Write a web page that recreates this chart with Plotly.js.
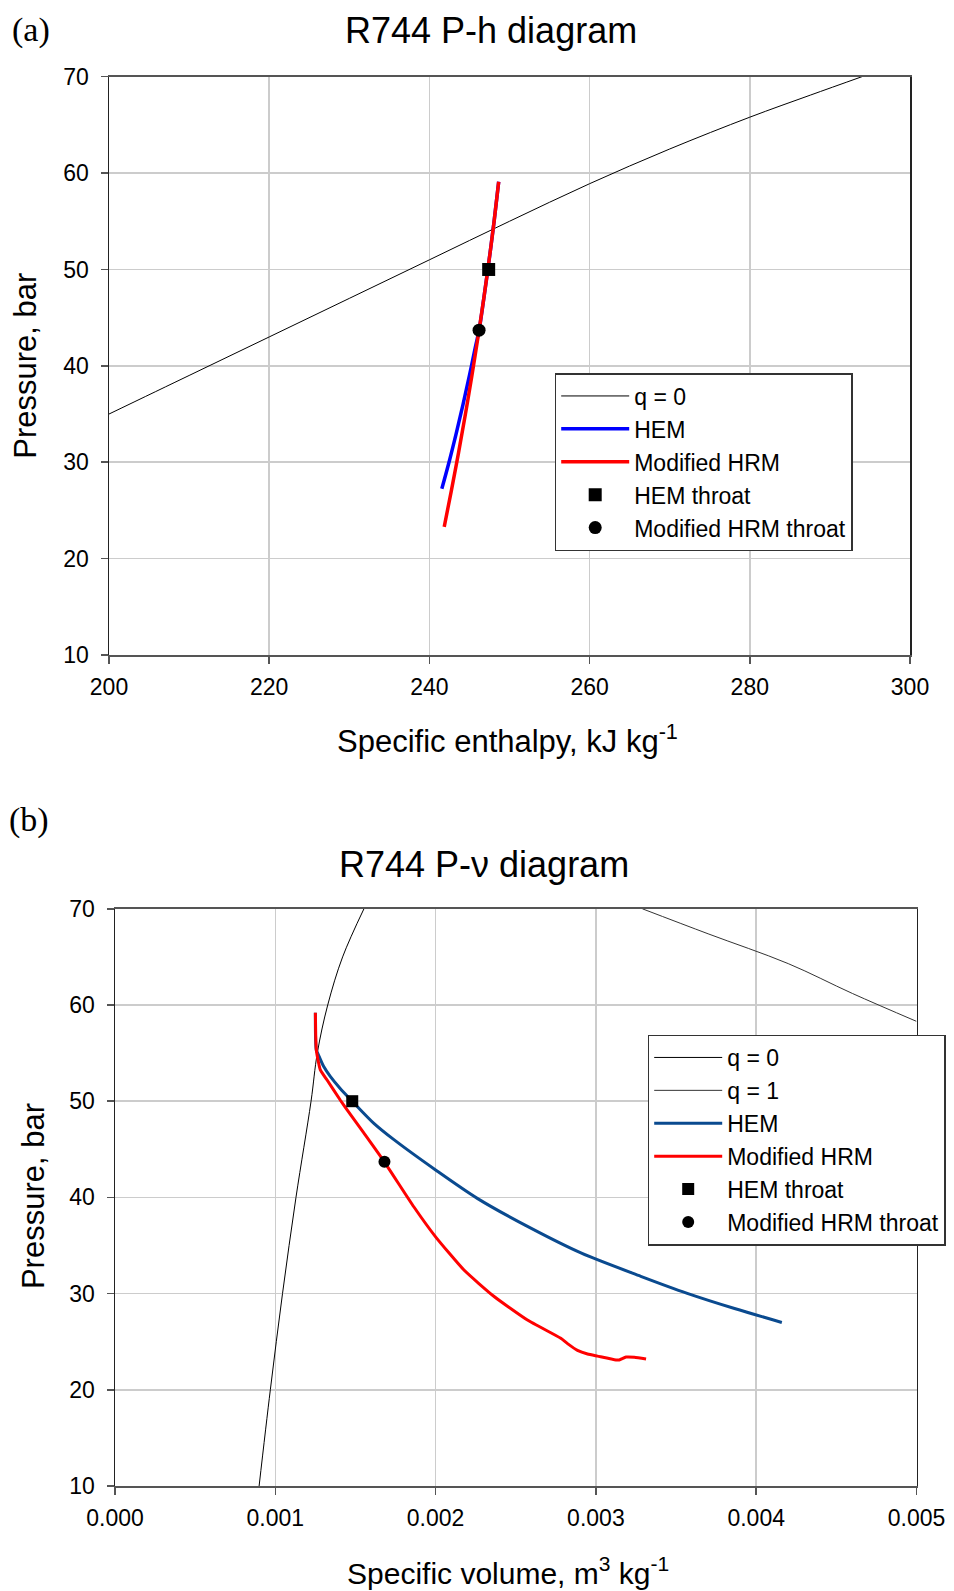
<!DOCTYPE html>
<html>
<head>
<meta charset="utf-8">
<script src="https://cdn.plot.ly/plotly-3.0.1.min.js"></script>
<style>html,body{margin:0;padding:0;background:#fff;}#chart{width:954px;height:1591px;}</style>
</head>
<body>
<div id="chart"></div>
<script>
// ---------- (a) P-h diagram data ----------
const phQ0H = [200, 210, 220, 230, 240, 250, 260, 270, 280, 287.6, 294];
const phQ0P = [35.0, 39.0, 43.0, 47.0, 51.0, 55.0, 58.9, 62.5, 65.8, 68.1, 70.0];
const phHemH = [241.55, 242.45, 243.35, 244.2, 245.0, 245.75, 246.2, 246.79, 247.46, 248.08, 248.65];
const phHemP = [27.25, 30.0, 33.0, 36.0, 39.0, 42.0, 43.7, 47.0, 51.0, 55.0, 59.1];
const phHrmH = [241.85, 242.73, 243.64, 244.5, 245.31, 246.2, 246.79, 247.46, 248.08, 248.65];
const phHrmP = [23.3, 27.0, 31.0, 35.0, 39.0, 43.7, 47.0, 51.0, 55.0, 59.1];
const phHemThroatH = [247.4];
const phHemThroatP = [50.0];
const phHrmThroatH = [246.2];
const phHrmThroatP = [43.7];

// ---------- (b) P-v diagram data ----------
const pvQ0V = [0.000899, 0.000969, 0.001045, 0.001129, 0.001223, 0.001262, 0.001327, 0.00142, 0.001553];
const pvQ0P = [10, 20, 30, 40, 50, 55, 60, 65, 70];
const pvQ1V = [0.00329, 0.0037, 0.0042, 0.0046, 0.005];
const pvQ1P = [70, 67.4, 64.3, 61.2, 58.3];
const pvHemV = [0.00125, 0.001256, 0.001265, 0.001302, 0.001344, 0.001406, 0.00148, 0.001615, 0.00174, 0.002, 0.00226, 0.002594, 0.00291, 0.00328, 0.00357, 0.003865, 0.00416];
const pvHemP = [59.2, 55.3, 54.98, 53.6, 52.55, 51.3, 50.0, 47.7, 46.0, 42.85, 39.9, 36.8, 34.2, 31.8, 30.03, 28.45, 27.0];
const pvHrmV = [0.00125, 0.001252, 0.001256, 0.001281, 0.001323, 0.001406, 0.001448, 0.001552, 0.00168, 0.001865, 0.002, 0.002177, 0.002365, 0.002573, 0.002781, 0.002823, 0.002885, 0.002948, 0.00301, 0.003125, 0.003146, 0.003188, 0.00324, 0.003313];
const pvHrmP = [59.2, 57.0, 55.3, 53.25, 52.2, 50.1, 49.1, 46.7, 43.7, 39.0, 35.9, 32.45, 29.7, 27.25, 25.35, 24.8, 24.1, 23.72, 23.5, 23.1, 23.1, 23.4, 23.38, 23.2];
const pvHemThroatV = [0.00148];
const pvHemThroatP = [50.0];
const pvHrmThroatV = [0.001681];
const pvHrmThroatP = [43.7];

const xTicksA = [200, 220, 240, 260, 280, 300];
const xTicksB = [0, 0.001, 0.002, 0.003, 0.004, 0.005];
const yTicks = [10, 20, 30, 40, 50, 60, 70];

const W = 954, H = 1591;
const px = v => v / W;
const py = v => 1 - v / H;
const FONT = 'Liberation Sans, Arial, sans-serif';
const SERIF = 'Liberation Serif, Times New Roman, serif';
const RED = '#ff0000', BLUE = '#0000ff', DARKBLUE = '#0a4a8f';

const traces = [
  {x: phQ0H, y: phQ0P, name: 'q = 0', mode: 'lines', line: {color: '#000', width: 1, shape: 'spline', smoothing: 1}, xaxis: 'x', yaxis: 'y', legend: 'legend'},
  {x: phHemH, y: phHemP, name: 'HEM', mode: 'lines', line: {color: BLUE, width: 3.5, shape: 'spline', smoothing: 1}, xaxis: 'x', yaxis: 'y', legend: 'legend'},
  {x: phHrmH, y: phHrmP, name: 'Modified HRM', mode: 'lines', line: {color: RED, width: 3.5, shape: 'spline', smoothing: 1}, xaxis: 'x', yaxis: 'y', legend: 'legend'},
  {x: phHemThroatH, y: phHemThroatP, name: 'HEM throat', mode: 'markers', marker: {symbol: 'square', color: '#000', size: 13}, xaxis: 'x', yaxis: 'y', legend: 'legend'},
  {x: phHrmThroatH, y: phHrmThroatP, name: 'Modified HRM throat', mode: 'markers', marker: {symbol: 'circle', color: '#000', size: 13}, xaxis: 'x', yaxis: 'y', legend: 'legend'},

  {x: pvQ0V, y: pvQ0P, name: 'q = 0', mode: 'lines', line: {color: '#000', width: 1, shape: 'spline', smoothing: 1}, xaxis: 'x2', yaxis: 'y2', legend: 'legend2'},
  {x: pvQ1V, y: pvQ1P, name: 'q = 1', mode: 'lines', line: {color: '#333', width: 1, shape: 'spline', smoothing: 1}, xaxis: 'x2', yaxis: 'y2', legend: 'legend2'},
  {x: pvHemV, y: pvHemP, name: 'HEM', mode: 'lines', line: {color: DARKBLUE, width: 3, shape: 'spline', smoothing: 0.8}, xaxis: 'x2', yaxis: 'y2', legend: 'legend2'},
  {x: pvHrmV, y: pvHrmP, name: 'Modified HRM', mode: 'lines', line: {color: RED, width: 3, shape: 'spline', smoothing: 0.5}, xaxis: 'x2', yaxis: 'y2', legend: 'legend2'},
  {x: pvHemThroatV, y: pvHemThroatP, name: 'HEM throat', mode: 'markers', marker: {symbol: 'square', color: '#000', size: 12}, xaxis: 'x2', yaxis: 'y2', legend: 'legend2'},
  {x: pvHrmThroatV, y: pvHrmThroatP, name: 'Modified HRM throat', mode: 'markers', marker: {symbol: 'circle', color: '#000', size: 12}, xaxis: 'x2', yaxis: 'y2', legend: 'legend2'}
];

const axCommon = {
  showgrid: true, gridcolor: '#cccccc', gridwidth: 1.5,
  zeroline: false, showline: true, mirror: true,
  ticks: 'outside', ticklen: 7, tickwidth: 1.5, tickcolor: '#555',
  tickfont: {family: FONT, size: 23, color: '#000'},
  fixedrange: true
};
const xCommon = Object.assign({}, axCommon, {linecolor: '#555', linewidth: 2, ticklabelstandoff: 3});
const yCommon = Object.assign({}, axCommon, {linecolor: '#222', linewidth: 1.5, ticklabelstandoff: 7, range: [10, 70], tickvals: yTicks});

const legendCommon = {
  bgcolor: '#fff', bordercolor: '#333', borderwidth: 1.5,
  font: {family: FONT, size: 23, color: '#000'},
  xanchor: 'left', yanchor: 'top', itemwidth: 68, tracegroupgap: 0
};

const ann = (text, x, y, size, extra) => Object.assign({
  text: text, xref: 'paper', yref: 'paper', x: px(x), y: py(y),
  xanchor: 'center', yanchor: 'middle', showarrow: false,
  font: {family: FONT, size: size, color: '#000'}
}, extra || {});

const layout = {
  width: W, height: H,
  margin: {l: 0, r: 0, t: 0, b: 0},
  paper_bgcolor: '#fff', plot_bgcolor: '#fff',
  showlegend: true,
  xaxis: Object.assign({}, xCommon, {domain: [px(109), px(910)], range: [200, 300], tickvals: xTicksA, anchor: 'y'}),
  yaxis: Object.assign({}, yCommon, {domain: [py(655), py(76.7)], anchor: 'x'}),
  xaxis2: Object.assign({}, xCommon, {domain: [px(115), px(916.5)], range: [0, 0.005], tickvals: xTicksB, tickformat: '.3f', anchor: 'y2'}),
  yaxis2: Object.assign({}, yCommon, {domain: [py(1486), py(908.8)], anchor: 'x2'}),
  legend: Object.assign({}, legendCommon, {x: px(554.7), y: py(373)}),
  legend2: Object.assign({}, legendCommon, {x: px(647.7), y: py(1034.5)}),
  annotations: [
    ann('(a)', 30.5, 30, 34, {font: {family: SERIF, size: 34, color: '#000'}}),
    ann('(b)', 29, 820, 34, {font: {family: SERIF, size: 34, color: '#000'}}),
    ann('R744 P-h diagram', 490.7, 30.5, 36),
    ann('R744 P-ν diagram', 484, 864.7, 36),
    ann('Specific enthalpy, kJ kg<sup>-1</sup>', 508, 739, 31),
    ann('Specific volume, m<sup>3</sup> kg<sup>-1</sup>', 508, 1571, 30),
    ann('Pressure, bar', 25.4, 365.4, 31, {textangle: -90}),
    ann('Pressure, bar', 33.5, 1196.6, 31, {textangle: -90})
  ]
};

Plotly.newPlot('chart', traces, layout, {staticPlot: true, displayModeBar: false});
</script>
</body>
</html>
